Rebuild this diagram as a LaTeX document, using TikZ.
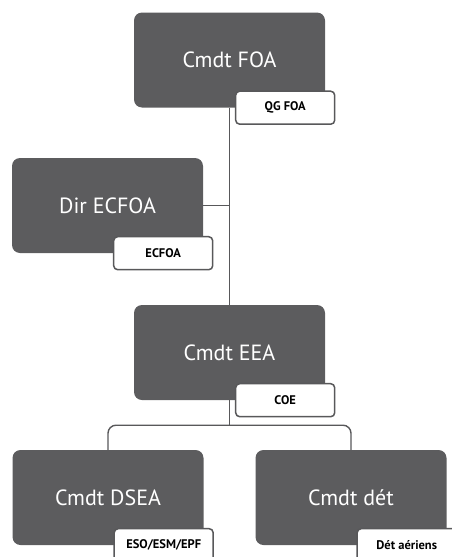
\documentclass[tikz,border=0pt]{standalone}
\usepackage{fontspec}
\setmainfont{PT Sans}
\usetikzlibrary{positioning}

\definecolor{boxgray}{RGB}{92,92,94}
\definecolor{linegray}{RGB}{88,88,90}

\begin{document}
\begin{tikzpicture}[x=1pt,y=-1pt,
      unit/.style={fill=boxgray,rounded corners=8pt,minimum width=191pt,minimum height=95pt,text=white,font=\fontsize{22}{26}\selectfont},
      tag/.style={draw=linegray,line width=1.5pt,fill=white,rounded corners=4pt,minimum width=99pt,minimum height=33pt,font=\fontsize{12.5}{15}\selectfont\bfseries},
      link/.style={draw=linegray,line width=1.4pt}]
    \useasboundingbox (0,0) rectangle (451,557);
    \node (foa) [unit] at (229.5,60) {Cmdt FOA};
    \node (ecfoa) [unit] at (107.5,205.5) {Dir ECFOA};
    \node (eea) [unit] at (229.5,352.5) {Cmdt EEA};
    \node (dsea) [unit] at (108,497.5) {Cmdt DSEA};
    \node (det) [unit] at (351,497.5) {Cmdt dét};
    \coordinate (split) at ([yshift=-25pt]eea.south);
    \draw[link] (foa.south) -- (eea.north);
    \draw[link] (ecfoa.east) -- (ecfoa.east -| foa.south);
    \draw[link] (eea.south) -- (split);
    \draw[link,rounded corners=8pt] (dsea.north) |- (split) -| (det.north);
    \node (qg) [tag] at ([xshift=-40pt]foa.south east) {QG FOA};
    \node (ecfoatag) [tag] at ([xshift=-40pt]ecfoa.south east) {ECFOA};
    \node (coe) [tag] at ([xshift=-40pt]eea.south east) {COE};
    \node (eso) [tag] at ([xshift=-40pt]dsea.south east) {ESO/ESM/EPF};
    \node (aer) [tag] at ([xshift=-40pt]det.south east) {Dét aériens};
\end{tikzpicture}
\end{document}
